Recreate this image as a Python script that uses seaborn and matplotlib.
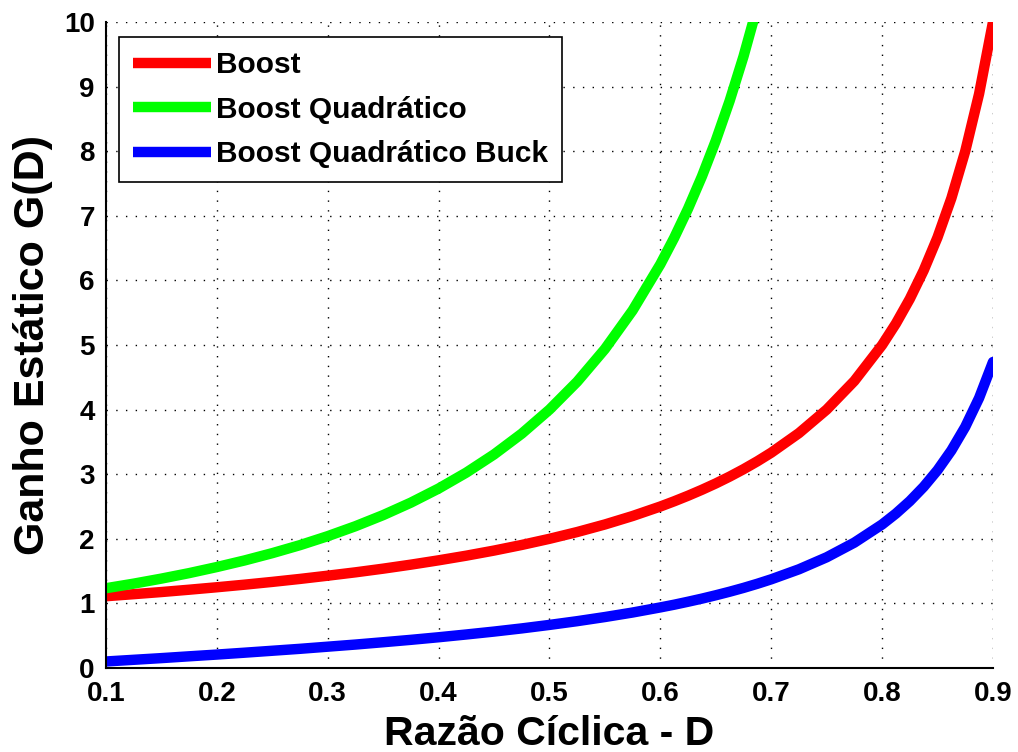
import pandas as pd
import matplotlib
matplotlib.use("Agg")
import matplotlib.pyplot as plt
import seaborn as sns

# ---------------- data ------------------------------------
duty = [0.100, 0.125, 0.150, 0.175, 0.200, 0.225, 0.250, 0.275, 0.300, 0.325,
        0.350, 0.375, 0.400, 0.425, 0.450, 0.475, 0.500, 0.525, 0.550, 0.575,
        0.600, 0.6125, 0.625, 0.6375, 0.650, 0.6625, 0.675, 0.6875, 0.700,
        0.725, 0.750, 0.775, 0.800, 0.8125, 0.825, 0.8375, 0.850, 0.8625,
        0.875, 0.8875, 0.900]

boost = [1.111, 1.143, 1.176, 1.212, 1.250, 1.290, 1.333, 1.379, 1.429, 1.481,
         1.538, 1.600, 1.667, 1.739, 1.818, 1.905, 2.000, 2.105, 2.222, 2.353,
         2.500, 2.581, 2.667, 2.759, 2.857, 2.963, 3.077, 3.200, 3.333,
         3.636, 4.000, 4.444, 5.000, 5.333, 5.714, 6.154, 6.667, 7.273,
         8.000, 8.889, 10.00]

# quadratic boost leaves the axes (y > 10) just before D = 0.69
boost_quad = [1.235, 1.306, 1.384, 1.469, 1.563, 1.665, 1.778, 1.902, 2.041, 2.195,
              2.367, 2.560, 2.778, 3.025, 3.306, 3.628, 4.000, 4.432, 4.938, 5.536,
              6.250, 6.660, 7.111, 7.610, 8.163, 8.779, 9.467, 10.24]

boost_quad_buck = [0.101, 0.127, 0.153, 0.181, 0.208, 0.237, 0.267, 0.297, 0.330, 0.363,
                   0.399, 0.436, 0.476, 0.519, 0.564, 0.613, 0.667, 0.725, 0.789, 0.859,
                   0.938, 0.980, 1.026, 1.074, 1.126, 1.181, 1.240, 1.304, 1.373,
                   1.528, 1.714, 1.941, 2.222, 2.391, 2.583, 2.805, 3.063, 3.368,
                   3.733, 4.180, 4.737]

names = ["Boost", "Boost Quadrático", "Boost Quadrático Buck"]
colors = ["#ff0000", "#00ff00", "#0000ff"]
x_ticks = [0.1, 0.2, 0.3, 0.4, 0.5, 0.6, 0.7, 0.8, 0.9]
y_ticks = [0, 1, 2, 3, 4, 5, 6, 7, 8, 9, 10]

frames = []
for name, vals in zip(names, [boost, boost_quad, boost_quad_buck]):
    frames.append(pd.DataFrame({"D": duty[:len(vals)], "G": vals, "conv": name}))
df = pd.concat(frames, ignore_index=True)

# ---------------- plot -----------------
sns.set_style("white")
plt.rcParams["font.family"] = ["Liberation Sans", "DejaVu Sans"]
plt.rcParams["font.weight"] = "bold"
plt.rcParams["text.color"] = "black"
plt.rcParams["axes.labelcolor"] = "black"

fig = plt.figure(figsize=(10.18, 7.52), dpi=100)
ax = fig.add_axes([0.1041, 0.1117, 0.8713, 0.8590])   # MATLAB-like axes box

sns.lineplot(data=df, x="D", y="G", hue="conv", hue_order=names,
             palette=dict(zip(names, colors)), linewidth=7.5, sort=False,
             ax=ax, legend=False)

ax.set_xlim(0.1, 0.9)
ax.set_ylim(0, 10)
ax.set_xticks(x_ticks)
ax.set_yticks(y_ticks)
ax.set_xticklabels([f"{t:.1f}" for t in x_ticks], fontsize=20, fontweight="bold")
ax.set_yticklabels([str(t) for t in y_ticks], fontsize=20, fontweight="bold")
ax.tick_params(axis="x", direction="in", length=7, width=1.2, pad=9, colors="black")
ax.tick_params(axis="y", direction="in", length=7, width=1.2, pad=8, colors="black")

ax.grid(True, linestyle=(0, (1, 6)), color="black", linewidth=1.0)
for side in ["top", "right"]:
    ax.spines[side].set_visible(False)
for side in ["left", "bottom"]:
    ax.spines[side].set_color("black")
    ax.spines[side].set_linewidth(1.5)

ax.set_xlabel("Razão Cíclica - D", fontsize=29.5, fontweight="bold", labelpad=6)
ax.set_ylabel("Ganho Estático G(D)", fontsize=31, fontweight="bold")
ax.yaxis.set_label_coords(-0.0598, 0.5)

# square-ended handles like the original legend
handles = [plt.Line2D([], [], color=c, linewidth=7.5, solid_capstyle="butt") for c in colors]
leg = ax.legend(handles, names, loc="upper left", bbox_to_anchor=(0.0147, 0.977),
                borderaxespad=0, prop={"size": 21.5, "weight": "bold"},
                handlelength=2.6, handletextpad=0.17, labelspacing=0.55,
                borderpad=0.48, fancybox=False, framealpha=1, edgecolor="black")
leg.get_frame().set_linewidth(1.2)

fig.savefig("out.png", dpi=100)
